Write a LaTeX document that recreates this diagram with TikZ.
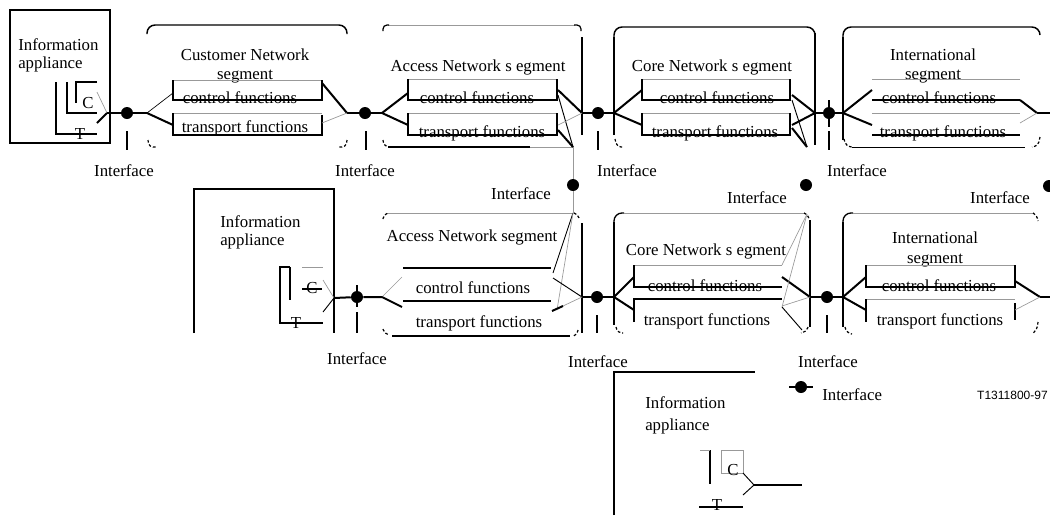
\documentclass[tikz,border=0pt]{standalone}
\usepackage{fontspec}
\setmainfont{Liberation Serif}
\newfontfamily\lsans{Liberation Sans}
\begin{document}
\begin{tikzpicture}[x=0.75pt,y=-0.75pt,
  thk/.style={line width=1.5pt},
  thn/.style={line width=0.7pt},
  gry/.style={line width=0.5pt,draw=black!40},
  cmark/.style={line width=0.9pt,dash pattern=on 2pt off 1.5pt},
  txt/.style={font=\fontsize{12.6}{14}\selectfont,inner sep=0pt,anchor=base},
  txtw/.style={txt,anchor=base west},
  ifdot/.style={circle,fill=black,inner sep=0pt,minimum size=9pt},
  vbar/.style={line width=2.2pt},
]
\useasboundingbox (0,0) rectangle (1050,515);

% ================= TOP ROW =================
% Information appliance 1
\draw[thk] (10,10) rectangle (110,143);
\node[txtw] (ia1a) at (18,50) {Information};
\node[txtw] (ia1b) at (18,68) {appliance};
\draw[thk] (56,82) -- (56,134) -- (97,134);
\draw[thk] (67,82) -- (67,113) -- (97,113);
\draw[thk] (97,82) -- (76,82) -- (76,103);
\node[txt] (c1) at (88,108) {C};
\node[txt] (t1) at (80,139) {T};
\coordinate (o1) at (107,113);
\draw[gry] (97,92) -- (o1);
\draw[thk] (97,123) -- (o1);

% interface dots top
\node[ifdot] (d1) at (127,113) {};
\node[ifdot] (d2) at (365,113) {};
\node[ifdot] (d3) at (598,113) {};
\node[ifdot] (d4) at (829,113) {};
\draw[vbar] (829,100) -- (829,127);
\foreach \x in {127,366,598,829} \draw[thk] (\x,131) -- (\x,150);
\node[txt] (i1) at (124,176) {Interface};
\node[txt] (i2) at (365,176) {Interface};
\node[txt] (i3) at (627,176) {Interface};
\node[txt] (i4) at (857,176) {Interface};

\coordinate (f1) at (147,113);
\coordinate (f2) at (347,113);
\coordinate (f3) at (382,113);
\coordinate (f4) at (582,113);
\coordinate (f5) at (614,113);
\coordinate (f6) at (815,113);
\coordinate (f7) at (843,113);
\coordinate (f8) at (1037,113);
\coordinate (e1) at (1050,113);
\draw[thk] (o1) -- (d1) -- (f1);
\draw[thk] (f2) -- (d2) -- (f3);
\draw[thk] (f4) -- (d3) -- (f5);
\draw[thk] (f6) -- (d4) -- (f7);
\draw[thk] (f8) -- (e1);

% Customer network segment
\draw[line width=1.1pt,rounded corners=6pt] (147,34) -- (147,25) -- (347,25) -- (347,34);
\draw[cmark,rounded corners=3pt] (148,140) -- (149,147) -- (157,147);
\draw[cmark,rounded corners=3pt] (347,140) -- (346,147) -- (338,147);
\node[txt] (cn1) at (245,60) {Customer Network};
\node[txt] (cn2) at (245,79) {segment};
\draw[gry] (173,80) -- (322,80);
\draw[thk] (173,80) -- (173,100) -- (322,100) -- (322,80);
\draw[gry] (173,113) -- (322,113);
\draw[thk] (173,113) -- (173,135) -- (322,135) -- (322,115);
\node[txt] (cn3) at (240,103) {control functions};
\node[txt] (cn4) at (245,132) {transport functions};
\draw[line width=0.5pt] (f1) -- (173,93);
\draw[thk] (f1) -- (173,125);
\draw[thk] (322,83) -- (f2);
\draw[gry] (322,123) -- (f2);

% Access network segment (top)
\draw[gry] (388,25) -- (575,25);
\draw[line width=0.9pt,rounded corners=3pt] (383,31) -- (383,25) -- (389,25);
\draw[line width=0.9pt,rounded corners=3pt] (574,25) -- (581,25) -- (581,31);
\draw[thk] (582,37) -- (582,135);
\draw[line width=1pt] (388,147) -- (530,147);
\draw[gry] (530,147) -- (573,147);
\draw[cmark,rounded corners=3pt] (383,140) -- (384,146) -- (388,147);
\node[txt] (an1) at (478,71) {Access Network s egment};
\draw[gry] (408,79) -- (557,79);
\draw[thk] (408,79) -- (408,100) -- (557,100) -- (557,79);
\draw[gry] (408,113) -- (557,113);
\draw[thk] (408,113) -- (408,135) -- (557,135) -- (557,113);
\node[txt] (an2) at (477,103) {control functions};
\node[txt] (an3) at (482,137) {transport functions};
\draw[thk] (f3) -- (408,93);
\draw[thk] (f3) -- (408,125);
\coordinate (g1) at (573,147);
\draw[thk] (558,90) -- (f4);
\draw[thn] (558,95) -- (g1);
\draw[gry] (558,125) -- (f4);
\draw[thk] (558,130) -- (g1);

% Core network segment (top)
\draw[thk] (614,135) -- (614,37);
\draw[line width=1.1pt,rounded corners=6pt] (614,37) -- (614,27) -- (815,27) -- (815,37);
\draw[thk] (815,33) -- (815,145);
\draw[cmark,rounded corners=3pt] (615,139) -- (617,147) -- (624,147);
\node[txt] (co1) at (712,71) {Core Network s egment};
\draw[gry] (642,79) -- (790,79);
\draw[thk] (642,79) -- (642,100) -- (790,100) -- (790,79);
\draw[gry] (642,113) -- (790,113);
\draw[thk] (642,113) -- (642,135) -- (790,135) -- (790,113);
\node[txt] (co2) at (717,103) {control functions};
\node[txt] (co3) at (715,137) {transport functions};
\draw[thk] (f5) -- (642,90);
\draw[thk] (f5) -- (642,125);
\coordinate (g2) at (807,147);
\draw[thk] (792,95) -- (f6);
\draw[thn] (792,100) -- (g2);
\draw[thk] (792,125) -- (f6);
\draw[thk] (792,128) -- (g2);

% International segment (top)
\draw[thk] (843,140) -- (843,37);
\draw[line width=1.1pt,rounded corners=6pt] (843,37) -- (843,27) -- (1040,27) -- (1040,35);
\draw[thn] (852,147) -- (1025,147);
\draw[cmark,rounded corners=3pt] (844,139) -- (846,146) -- (852,147);
\draw[cmark,rounded corners=3pt] (1040,137) -- (1038,146) -- (1032,147);
\node[txt] (in1) at (933,60) {International};
\node[txt] (in2) at (933,79) {segment};
\draw[gry] (872,79) -- (1020,79);
\draw[thk] (872,100) -- (1020,100);
\draw[gry] (872,113) -- (1020,113);
\draw[thk] (872,135) -- (1020,135);
\node[txt] (in3) at (939,103) {control functions};
\node[txt] (in4) at (943,137) {transport functions};
\draw[thk] (f7) -- (872,90);
\draw[thk] (f7) -- (872,125);
\draw[thk] (1020,100) -- (f8);
\draw[gry] (1020,123) -- (f8);

% ================= MIDDLE =================
\node[ifdot] (m1) at (573,185) {};
\node[ifdot] (m2) at (806,185) {};
\node[ifdot] (m3) at (1049,186) {};
\coordinate (g3) at (573,213);
\draw[gry] (g1) -- (m1) -- (g3);
\node[txt] (mi1) at (521,199) {Interface};
\node[txt] (mi2) at (757,203) {Interface};
\node[txt] (mi3) at (1000,203) {Interface};

% ================= BOTTOM ROW =================
% Information appliance 2
\draw[thk] (194,333) -- (194,189) -- (334,189) -- (334,333);
\node[txtw] (ia2a) at (220,227) {Information};
\node[txtw] (ia2b) at (220,245) {appliance};
\draw[thk] (290,267) -- (280,267) -- (280,323) -- (323,323);
\draw[thk] (290,267) -- (290,300);
\draw[gry] (302,267) -- (323,267);
\node[txt] (c2) at (312,293) {C};
\draw[thk] (302,289) -- (322,289);
\node[txt] (t2) at (296,328) {T};
\coordinate (o2) at (334,298);
\draw[gry] (323,280) -- (o2);
\draw[thn] (323,312) -- (o2);

\node[ifdot] (b1) at (357,297) {};
\node[ifdot] (b2) at (597,297) {};
\node[ifdot] (b3) at (827,297) {};
\draw[vbar] (357,285) -- (357,307);
\draw[thk] (357,312) -- (357,333);
\draw[thk] (597,315) -- (597,333);
\draw[thk] (827,315) -- (827,333);
\node[txt] (bi1) at (357,364) {Interface};
\node[txt] (bi2) at (598,367) {Interface};
\node[txt] (bi3) at (828,367) {Interface};

\coordinate (h1) at (382,297);
\coordinate (h2) at (582,297);
\coordinate (h3) at (614,297);
\coordinate (h4) at (810,297);
\coordinate (h5) at (843,297);
\coordinate (h6) at (1040,297);
\coordinate (e2) at (1050,297);
\draw[thk] (o2) -- (b1) -- (h1);
\draw[thk] (h2) -- (b2) -- (h3);
\draw[thk] (h4) -- (b3) -- (h5);
\draw[thk] (h6) -- (e2);

% Access network segment (bottom)
\draw[gry] (386,213) -- (572,213);
\draw[cmark,rounded corners=3pt] (383,219) -- (384,214) -- (388,213);
\draw[cmark,rounded corners=3pt] (574,213) -- (578,214) -- (579,218);
\draw[thk] (582,223) -- (582,333);
\draw[thk] (392,336) -- (570,336);
\draw[cmark,rounded corners=3pt] (383,329) -- (385,334) -- (389,335);
\draw[cmark,rounded corners=3pt] (578,330) -- (577,335) -- (574,336);
\node[txt] (ab1) at (472,241) {Access Network segment};
\draw[thk] (403,268) -- (551,268);
\draw[thk] (403,301) -- (551,301);
\node[txt] (ab2) at (473,293) {control functions};
\node[txt] (ab3) at (479,327) {transport functions};
\draw[gry] (h1) -- (402,277);
\draw[thk] (h1) -- (402,307);
\draw[thn] (553,273) -- (g3);
\draw[gry] (557,310) -- (g3);
\draw[thn] (553,278) -- (h2);
\draw[gry] (563,306) -- (h2);
\draw[thk] (552,311) -- (563,306);

% Core network segment (bottom)
\draw[thk] (614,325) -- (614,222);
\draw[line width=1pt,rounded corners=6pt] (614,222) -- (614,213) -- (624,213);
\draw[gry] (624,213) -- (805,213);
\draw[cmark,rounded corners=3pt] (804,213) -- (808,214) -- (809,219);
\draw[thk] (810,220) -- (810,327);
\draw[cmark,rounded corners=3pt] (616,327) -- (618,333) -- (623,333);
\draw[cmark,rounded corners=3pt] (808,327) -- (806,332) -- (801,333);
\node[txt] (cb1) at (706,255) {Core Network s egment};
\draw[gry] (634,265) -- (782,265);
\draw[thk] (634,265) -- (634,287) -- (782,287);
\draw[thk] (634,322) -- (634,299) -- (782,299);
\node[txt] (cb2) at (705,291) {control functions};
\node[txt] (cb3) at (707,325) {transport functions};
\draw[thk] (h3) -- (634,277);
\draw[thk] (h3) -- (634,310);
\coordinate (g4) at (807,214);
\draw[thk] (782,277) -- (h4);
\draw[gry] (782,306) -- (h4);
\draw[gry] (782,265) -- (g4);
\draw[gry] (782,307) -- (g4);
\draw[thn] (782,307) -- (802,330);

% International segment (bottom)
\draw[thk] (843,327) -- (843,222);
\draw[line width=1pt,rounded corners=6pt] (843,222) -- (843,213) -- (853,213);
\draw[gry] (853,213) -- (1034,213);
\draw[cmark,rounded corners=3pt] (1033,213) -- (1037,215) -- (1038,221);
\draw[cmark,rounded corners=3pt] (845,327) -- (847,333) -- (852,334);
\draw[cmark,rounded corners=3pt] (1038,322) -- (1037,330) -- (1033,333);
\node[txt] (ib1) at (935,243) {International};
\node[txt] (ib2) at (935,263) {segment};
\draw[gry] (866,265) -- (1015,265);
\draw[thk] (866,265) -- (866,287) -- (1015,287) -- (1015,265);
\draw[gry] (866,299) -- (1015,299);
\draw[thk] (866,299) -- (866,322);
\draw[thk] (1015,303) -- (1015,320);
\node[txt] (ib3) at (939,291) {control functions};
\node[txt] (ib4) at (940,325) {transport functions};
\draw[thk] (h5) -- (866,277);
\draw[thk] (h5) -- (866,310);
\draw[thk] (1015,281) -- (h6);
\draw[gry] (1015,310) -- (h6);

% ================= INFORMATION APPLIANCE 3 =================
\draw[thk] (614,515) -- (614,372) -- (755,372);
\node[txtw] (ia3a) at (645,408) {Information};
\node[txtw] (ia3b) at (645,430) {appliance};
\draw[thk] (710,450) -- (710,484);
\draw[gry] (700,450) -- (710,450);
\draw[gry] (721,450) rectangle (743,473);
\node[txt] (c3) at (733,475) {C};
\coordinate (o3) at (754,485);
\draw[thn] (743,473) -- (o3);
\draw[thn] (743,495) -- (o3);
\draw[line width=1pt] (o3) -- (802,485);
\node[txt] (t3) at (717,510) {T};
\draw[line width=1pt] (699,507) -- (743,507);

% legend
\node[ifdot] (lg) at (801,387) {};
\draw[thk] (789,387) -- (lg) -- (813,387);
\node[txtw] (lgt) at (822,400) {Interface};
\node[inner sep=0pt,anchor=base east,font=\lsans\fontsize{9}{10}\selectfont] (ref) at (1048,399) {T1311800-97};
\end{tikzpicture}
\end{document}
